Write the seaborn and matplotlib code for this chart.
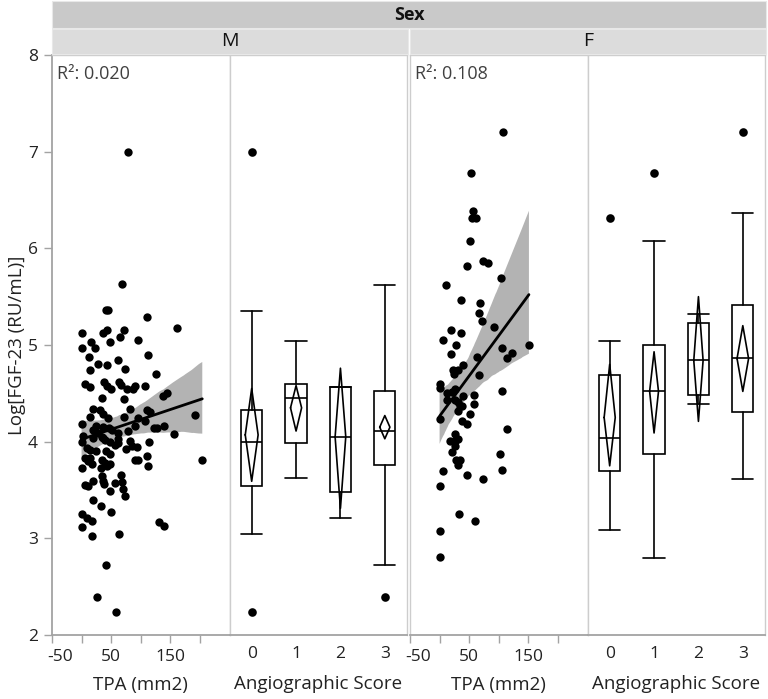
import numpy as np
import pandas as pd
import matplotlib
matplotlib.use("Agg")
import matplotlib.pyplot as plt
import matplotlib.transforms as mtransforms
from matplotlib.patches import Rectangle
import seaborn as sns

# ---- data ----
# TPA (mm2) vs Log[FGF-23], males
m_tpa = [78, 68.6, 41, 44, 110, 161.6, 0, 37, 42.5, 72, 65, 96, 48.7, 15.3, 0, 22.7,
         12.4, 112, 27.8, 42.5, 14.2, 61.2, 73, 125.8, 6.2, 14.2, 38.5, 42.5, 49.3, 63.5,
         66.9, 77.6, 86.7, 89.5, 108, 138, 144.6, 35, 72, 19.8, 31, 37, 81, 14.2, 44, 72,
         110.5, 116, 108, 95, 0, 24.3, 37, 46, 51, 90, 122, 127.5, 140, 156.5, 191, 2.8,
         19.8, 28, 34, 39.6, 61, 82, 114.5, 0, 8.5, 14, 40.8, 48, 56.7, 62.3, 75.4, 93.5,
         5.6, 11, 34, 48, 89.5, 95, 110.5, 112.8, 204, 0, 17, 32.8, 42.5, 66.9, 6, 10,
         19.8, 35.7, 38.5, 57.2, 68.6, 70.8, 48, 72.6, 19.8, 32.8, 49.3, 0, 8.5, 18, 0,
         17.5, 63.5, 131.5, 138.9, 40.8, 25.5, 57.8, 62.3, 77.7, 18.7, 36.8, 48, 85, 24.4,
         14.2, 39.7, 34]
m_fgf = [7.00, 5.63, 5.36, 5.36, 5.29, 5.18, 5.12, 5.12, 5.16, 5.16, 5.08, 5.05, 5.03, 5.03,
         4.97, 4.97, 4.88, 4.90, 4.80, 4.79, 4.74, 4.85, 4.75, 4.70, 4.60, 4.57, 4.62, 4.58,
         4.55, 4.62, 4.59, 4.54, 4.54, 4.58, 4.58, 4.47, 4.50, 4.45, 4.44, 4.34, 4.33, 4.29,
         4.34, 4.26, 4.24, 4.26, 4.33, 4.31, 4.21, 4.24, 4.18, 4.16, 4.15, 4.14, 4.12, 4.16,
         4.14, 4.14, 4.16, 4.08, 4.28, 4.06, 4.12, 4.09, 4.05, 4.02, 4.03, 4.01, 4.00, 4.00,
         3.93, 3.91, 3.90, 3.87, 3.97, 3.99, 3.92, 3.94, 3.83, 3.80, 3.81, 3.77, 3.81, 3.81,
         3.85, 3.75, 3.81, 3.73, 3.77, 3.73, 3.75, 3.65, 3.55, 3.54, 3.59, 3.59, 3.56, 3.57,
         3.58, 3.51, 3.49, 3.44, 3.40, 3.33, 3.27, 3.25, 3.21, 3.18, 3.12, 3.02, 3.05, 3.17,
         3.13, 2.72, 2.39, 2.24, 4.09, 4.11, 4.04, 4.04, 4.00, 3.95, 3.90, 3.83, 3.78, 3.64]

# females
f_tpa = [107.6, 53, 55.8, 54.2, 60.9, 50.8, 45.7, 72.7, 81.2, 103.7, 10.2, 35.6, 68.2, 66,
         71, 91.3, 19.8, 36.7, 5.7, 27.1, 105.4, 151, 19.8, 62.6, 121.7, 114.4, 39, 22,
         24.9, 31.6, 66, 0, 0, 26, 13, 20.4, 39, 58.7, 12, 26, 31.6, 58, 34.4, 37.3, 105.4,
         31.6, 51.9, 0, 37.3, 45.7, 113.3, 26, 18, 26, 30.5, 26, 21.5, 102.6, 27.7, 34.4,
         31.6, 6.3, 104.8, 45.7, 73.9, 0, 32.7, 60.3, 0, 0]
f_fgf = [7.20, 6.78, 6.39, 6.31, 6.31, 6.08, 5.82, 5.87, 5.85, 5.69, 5.62, 5.47, 5.43, 5.33,
         5.25, 5.19, 5.16, 5.12, 5.05, 5.00, 4.97, 5.00, 4.91, 4.88, 4.92, 4.87, 4.79, 4.74,
         4.70, 4.74, 4.69, 4.60, 4.56, 4.55, 4.50, 4.51, 4.47, 4.48, 4.43, 4.43, 4.41, 4.39,
         4.37, 4.37, 4.52, 4.32, 4.29, 4.23, 4.21, 4.18, 4.13, 4.08, 4.01, 4.01, 4.03, 3.96,
         3.89, 3.87, 3.81, 3.81, 3.76, 3.70, 3.71, 3.66, 3.61, 3.54, 3.25, 3.18, 3.08, 2.81]

r2_m = "0.020"
r2_f = "0.108"

# box plot summaries per angiographic score (0..3)
scores = [0, 1, 2, 3]
m_whislo = [3.04, 3.62, 3.21, 2.72]
m_q1 = [3.54, 3.99, 3.48, 3.76]
m_med = [4.00, 4.45, 4.05, 4.11]
m_q3 = [4.33, 4.60, 4.57, 4.52]
m_whishi = [5.35, 5.04, 4.57, 5.62]
m_fliers = [[7.00, 2.24], [], [], [2.39]]
m_mean = [4.07, 4.35, 4.05, 4.15]
m_ci_lo = [3.59, 4.11, 3.31, 4.03]
m_ci_hi = [4.55, 4.58, 4.76, 4.27]

f_whislo = [3.09, 2.80, 4.39, 3.61]
f_q1 = [3.70, 3.87, 4.48, 4.31]
f_med = [4.04, 4.52, 4.84, 4.87]
f_q3 = [4.69, 5.00, 5.23, 5.41]
f_whishi = [5.04, 6.08, 5.32, 6.37]
f_fliers = [[6.31], [6.78], [], [7.20]]
f_mean = [4.25, 4.52, 4.84, 4.86]
f_ci_lo = [3.75, 4.09, 4.21, 4.52]
f_ci_hi = [4.80, 4.93, 5.50, 5.20]

# diamond half widths (drawing style)
m_dw = [0.145, 0.125, 0.12, 0.115]
f_dw = [0.125, 0.10, 0.105, 0.13]

# ---- style ----
sns.set_style("white")
plt.rcParams["font.family"] = ["Open Sans", "DejaVu Sans"]
W, H = 768, 699
fig = plt.figure(figsize=(W / 100, H / 100), dpi=100)
TOP, BOT = 55, 635
FRAME = "#cdcdcd"
AXIS = "#a3a3a3"
TXT = "#222222"
TICK_FS = 12.5
LABEL_FS = 13.5


def rect(x0, x1):
    return [x0 / W, 1 - BOT / H, (x1 - x0) / W, (BOT - TOP) / H]


def style_frame(ax):
    for s in ax.spines.values():
        s.set_color(FRAME)
        s.set_linewidth(1.0)
    ax.spines["bottom"].set_color(AXIS)
    ax.spines["bottom"].set_linewidth(1.3)
    ax.set_ylim(2, 8)


def scatter_panel(ax, tpa, fgf, r2):
    df = pd.DataFrame({"tpa": tpa, "fgf": fgf})
    sns.regplot(data=df, x="tpa", y="fgf", ax=ax, scatter=False, ci=95,
                color="black", line_kws={"lw": 2.0, "zorder": 2})
    for coll in ax.collections:
        coll.set_facecolor("#b3b3b3")
        coll.set_alpha(1)
        coll.set_edgecolor("none")
        coll.set_zorder(1)
    sns.scatterplot(data=df, x="tpa", y="fgf", ax=ax, color="black", s=36,
                    linewidth=0, zorder=3)
    ax.set_xlim(-50, 250)
    ax.set_xticks([-50, 0, 50, 100, 150, 200])
    ax.set_xticklabels(["-50", "", "50", "", "150", ""])
    ax.tick_params(axis="x", direction="out", length=6, width=1, color=AXIS,
                   pad=4, labelsize=TICK_FS, labelcolor=TXT, bottom=True)
    lbl = ax.get_xticklabels()[0]
    lbl.set_transform(lbl.get_transform() +
                      mtransforms.ScaledTranslation(0.08, 0, fig.dpi_scale_trans))
    ax.set_xlabel("TPA (mm2)", fontsize=LABEL_FS, color=TXT)
    ax.xaxis.set_label_coords(0.5, -(685 - BOT) / (BOT - TOP))
    ax.xaxis.label.set_va("center")
    ax.set_ylabel("")
    style_frame(ax)
    ax.text(0.028, 0.982, "R²: " + r2, transform=ax.transAxes, ha="left", va="top",
            fontsize=13, color="#404040")


def box_panel(ax, whislo, q1, med, q3, whishi, fliers, mean, lo, hi, dw):
    stats = []
    for i in range(len(scores)):
        stats.append(dict(whislo=whislo[i], q1=q1[i], med=med[i], q3=q3[i],
                          whishi=whishi[i], fliers=fliers[i]))
    lp = dict(color="black", linewidth=1.2)
    ax.bxp(stats, positions=scores, widths=0.48, capwidths=0.48, patch_artist=True,
           boxprops=dict(facecolor="white", edgecolor="black", linewidth=1.2),
           medianprops=lp, whiskerprops=lp, capprops=lp,
           flierprops=dict(marker="o", markerfacecolor="black", markeredgecolor="none",
                           markersize=6.2))
    for i, p in enumerate(scores):
        xs = [p - dw[i], p, p + dw[i], p, p - dw[i]]
        ys = [mean[i], hi[i], mean[i], lo[i], mean[i]]
        ax.plot(xs, ys, color="black", lw=1.2, zorder=5)
    ax.set_xlim(-0.5, 3.5)
    ax.set_xticks(scores)
    ax.set_xticklabels([str(s) for s in scores])
    ax.tick_params(axis="x", length=0, pad=8, labelsize=TICK_FS, labelcolor=TXT, bottom=True)
    ax.set_xlabel("Angiographic Score", fontsize=LABEL_FS, color=TXT)
    ax.xaxis.set_label_coords(0.5, -(684 - BOT) / (BOT - TOP))
    ax.xaxis.label.set_va("center")
    style_frame(ax)


ax_ms = fig.add_axes(rect(52, 229.5))
ax_mb = fig.add_axes(rect(229.5, 407))
ax_fs = fig.add_axes(rect(410, 587.5))
ax_fb = fig.add_axes(rect(587.5, 765))

scatter_panel(ax_ms, m_tpa, m_fgf, r2_m)
scatter_panel(ax_fs, f_tpa, f_fgf, r2_f)
box_panel(ax_mb, m_whislo, m_q1, m_med, m_q3, m_whishi, m_fliers, m_mean, m_ci_lo, m_ci_hi, m_dw)
box_panel(ax_fb, f_whislo, f_q1, f_med, f_q3, f_whishi, f_fliers, f_mean, f_ci_lo, f_ci_hi, f_dw)

# y axis only on the first panel
ax_ms.set_yticks(range(2, 9))
ax_ms.tick_params(axis="y", direction="out", length=6, width=1, color=AXIS, pad=4,
                  labelsize=TICK_FS, labelcolor=TXT, left=True)
ax_ms.spines["left"].set_color(AXIS)
ax_ms.spines["left"].set_linewidth(1.3)
ax_ms.set_ylabel("Log[FGF-23 (RU/mL)]", fontsize=LABEL_FS, color=TXT)
ax_ms.yaxis.set_label_coords(-(52 - 17) / (229.5 - 52), 0.5)
ax_ms.yaxis.label.set_va("center")
for ax in (ax_mb, ax_fs, ax_fb):
    ax.set_yticks(range(2, 9))
    ax.tick_params(axis="y", left=False, labelleft=False)
    ax.set_ylabel("")

# header bars
def bar(x0, x1, y0, y1, color, text, bold=False, fs=13.5):
    fig.patches.append(Rectangle((x0 / W, 1 - y1 / H), (x1 - x0) / W, (y1 - y0) / H,
                                 transform=fig.transFigure, facecolor=color,
                                 edgecolor="#e8e8e8", linewidth=0.8))
    fig.text((x0 + x1) / 2 / W, 1 - (y0 + y1) / 2 / H, text, ha="center", va="center",
             fontsize=fs, color="#111111", fontweight="bold" if bold else "normal")

bar(52, 766, 1.5, 28, "#c9c9c9", "Sex", bold=True, fs=13)
bar(52, 407.5, 28.5, 54, "#dcdcdc", "M", fs=14)
bar(409.5, 766, 28.5, 54, "#dcdcdc", "F", fs=14)

fig.savefig("out.png", dpi=100)
